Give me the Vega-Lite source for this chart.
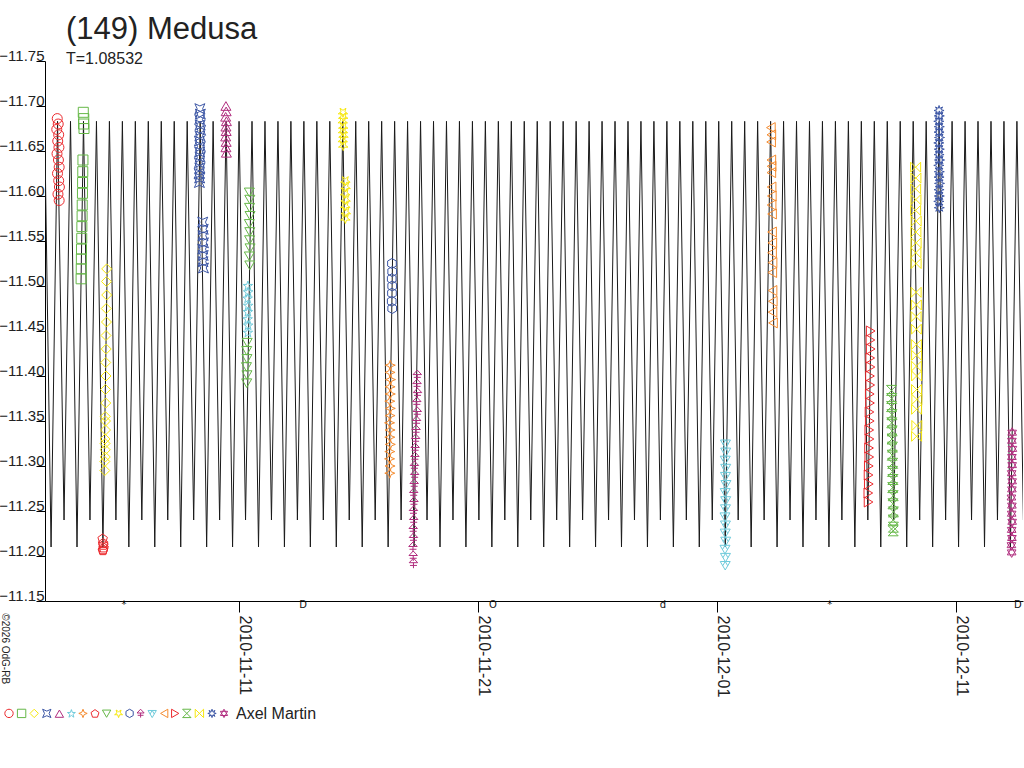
{
  "$schema": "https://vega.github.io/schema/vega-lite/v6.json",
  "autosize": "none",
  "width": 978,
  "height": 540,
  "padding": {"left": 45, "top": 61, "right": 1, "bottom": 167},
  "background": "white",
  "title": {
    "text": "(149) Medusa",
    "subtitle": "T=1.08532",
    "anchor": "start",
    "frame": "group",
    "dx": 21,
    "offset": -20,
    "font": "Liberation Sans",
    "fontSize": 31,
    "fontWeight": "normal",
    "color": "#222222",
    "subtitleFont": "Liberation Sans",
    "subtitleFontSize": 16,
    "subtitleColor": "#222222",
    "subtitlePadding": 5
  },
  "datasets": {
    "model": [
      {"day": 1.850, "mag": -11.683}, {"day": 2.121, "mag": -11.21}, {"day": 2.392, "mag": -11.683}, {"day": 2.664, "mag": -11.24},
      {"day": 2.935, "mag": -11.683}, {"day": 3.207, "mag": -11.21}, {"day": 3.478, "mag": -11.683}, {"day": 3.749, "mag": -11.24},
      {"day": 4.021, "mag": -11.683}, {"day": 4.292, "mag": -11.21}, {"day": 4.563, "mag": -11.683}, {"day": 4.835, "mag": -11.24},
      {"day": 5.106, "mag": -11.683}, {"day": 5.377, "mag": -11.21}, {"day": 5.648, "mag": -11.683}, {"day": 5.920, "mag": -11.24},
      {"day": 6.191, "mag": -11.683}, {"day": 6.462, "mag": -11.21}, {"day": 6.734, "mag": -11.683}, {"day": 7.005, "mag": -11.24},
      {"day": 7.276, "mag": -11.683}, {"day": 7.548, "mag": -11.21}, {"day": 7.819, "mag": -11.683}, {"day": 8.090, "mag": -11.24},
      {"day": 8.362, "mag": -11.683}, {"day": 8.633, "mag": -11.21}, {"day": 8.904, "mag": -11.683}, {"day": 9.176, "mag": -11.24},
      {"day": 9.447, "mag": -11.683}, {"day": 9.718, "mag": -11.21}, {"day": 9.990, "mag": -11.683}, {"day": 10.261, "mag": -11.24},
      {"day": 10.532, "mag": -11.683}, {"day": 10.804, "mag": -11.21}, {"day": 11.075, "mag": -11.683}, {"day": 11.346, "mag": -11.24},
      {"day": 11.618, "mag": -11.683}, {"day": 11.889, "mag": -11.21}, {"day": 12.160, "mag": -11.683}, {"day": 12.432, "mag": -11.24},
      {"day": 12.703, "mag": -11.683}, {"day": 12.974, "mag": -11.21}, {"day": 13.246, "mag": -11.683}, {"day": 13.517, "mag": -11.24},
      {"day": 13.788, "mag": -11.683}, {"day": 14.060, "mag": -11.21}, {"day": 14.331, "mag": -11.683}, {"day": 14.602, "mag": -11.24},
      {"day": 14.874, "mag": -11.683}, {"day": 15.145, "mag": -11.21}, {"day": 15.416, "mag": -11.683}, {"day": 15.688, "mag": -11.24},
      {"day": 15.959, "mag": -11.683}, {"day": 16.230, "mag": -11.21}, {"day": 16.502, "mag": -11.683}, {"day": 16.773, "mag": -11.24},
      {"day": 17.044, "mag": -11.683}, {"day": 17.316, "mag": -11.21}, {"day": 17.587, "mag": -11.683}, {"day": 17.858, "mag": -11.24},
      {"day": 18.130, "mag": -11.683}, {"day": 18.401, "mag": -11.21}, {"day": 18.672, "mag": -11.683}, {"day": 18.944, "mag": -11.24},
      {"day": 19.215, "mag": -11.683}, {"day": 19.486, "mag": -11.21}, {"day": 19.758, "mag": -11.683}, {"day": 20.029, "mag": -11.24},
      {"day": 20.300, "mag": -11.683}, {"day": 20.572, "mag": -11.21}, {"day": 20.843, "mag": -11.683}, {"day": 21.114, "mag": -11.24},
      {"day": 21.386, "mag": -11.683}, {"day": 21.657, "mag": -11.21}, {"day": 21.928, "mag": -11.683}, {"day": 22.200, "mag": -11.24},
      {"day": 22.471, "mag": -11.683}, {"day": 22.742, "mag": -11.21}, {"day": 23.014, "mag": -11.683}, {"day": 23.285, "mag": -11.24},
      {"day": 23.556, "mag": -11.683}, {"day": 23.828, "mag": -11.21}, {"day": 24.099, "mag": -11.683}, {"day": 24.370, "mag": -11.24},
      {"day": 24.642, "mag": -11.683}, {"day": 24.913, "mag": -11.21}, {"day": 25.184, "mag": -11.683}, {"day": 25.456, "mag": -11.24},
      {"day": 25.727, "mag": -11.683}, {"day": 25.998, "mag": -11.21}, {"day": 26.270, "mag": -11.683}, {"day": 26.541, "mag": -11.24},
      {"day": 26.812, "mag": -11.683}, {"day": 27.084, "mag": -11.21}, {"day": 27.355, "mag": -11.683}, {"day": 27.626, "mag": -11.24},
      {"day": 27.898, "mag": -11.683}, {"day": 28.169, "mag": -11.21}, {"day": 28.440, "mag": -11.683}, {"day": 28.712, "mag": -11.24},
      {"day": 28.983, "mag": -11.683}, {"day": 29.254, "mag": -11.21}, {"day": 29.526, "mag": -11.683}, {"day": 29.797, "mag": -11.24},
      {"day": 30.068, "mag": -11.683}, {"day": 30.340, "mag": -11.21}, {"day": 30.611, "mag": -11.683}, {"day": 30.882, "mag": -11.24},
      {"day": 31.154, "mag": -11.683}, {"day": 31.425, "mag": -11.21}, {"day": 31.696, "mag": -11.683}, {"day": 31.968, "mag": -11.24},
      {"day": 32.239, "mag": -11.683}, {"day": 32.510, "mag": -11.21}, {"day": 32.782, "mag": -11.683}, {"day": 33.053, "mag": -11.24},
      {"day": 33.324, "mag": -11.683}, {"day": 33.595, "mag": -11.21}, {"day": 33.867, "mag": -11.683}, {"day": 34.138, "mag": -11.24},
      {"day": 34.409, "mag": -11.683}, {"day": 34.681, "mag": -11.21}, {"day": 34.952, "mag": -11.683}, {"day": 35.223, "mag": -11.24},
      {"day": 35.495, "mag": -11.683}, {"day": 35.766, "mag": -11.21}, {"day": 36.037, "mag": -11.683}, {"day": 36.309, "mag": -11.24},
      {"day": 36.580, "mag": -11.683}, {"day": 36.851, "mag": -11.21}, {"day": 37.123, "mag": -11.683}, {"day": 37.394, "mag": -11.24},
      {"day": 37.665, "mag": -11.683}, {"day": 37.937, "mag": -11.21}, {"day": 38.208, "mag": -11.683}, {"day": 38.479, "mag": -11.24},
      {"day": 38.751, "mag": -11.683}, {"day": 39.022, "mag": -11.21}, {"day": 39.293, "mag": -11.683}, {"day": 39.565, "mag": -11.24},
      {"day": 39.836, "mag": -11.683}, {"day": 40.107, "mag": -11.21}, {"day": 40.379, "mag": -11.683}, {"day": 40.650, "mag": -11.24},
      {"day": 40.921, "mag": -11.683}, {"day": 41.193, "mag": -11.21}, {"day": 41.464, "mag": -11.683}, {"day": 41.735, "mag": -11.24},
      {"day": 42.007, "mag": -11.683}, {"day": 42.278, "mag": -11.21}, {"day": 42.549, "mag": -11.683}, {"day": 42.821, "mag": -11.24}
    ],
    "obs": [
      {"session": "s01", "day": 2.38, "mag": -11.686}, {"session": "s01", "day": 2.42, "mag": -11.680}, {"session": "s01", "day": 2.36, "mag": -11.674},
      {"session": "s01", "day": 2.44, "mag": -11.668}, {"session": "s01", "day": 2.40, "mag": -11.661}, {"session": "s01", "day": 2.45, "mag": -11.654},
      {"session": "s01", "day": 2.37, "mag": -11.647}, {"session": "s01", "day": 2.43, "mag": -11.640}, {"session": "s01", "day": 2.46, "mag": -11.632},
      {"session": "s01", "day": 2.39, "mag": -11.625}, {"session": "s01", "day": 2.44, "mag": -11.617}, {"session": "s01", "day": 2.47, "mag": -11.610},
      {"session": "s01", "day": 2.41, "mag": -11.602}, {"session": "s01", "day": 2.46, "mag": -11.595},

      {"session": "s02", "day": 3.47, "mag": -11.693}, {"session": "s02", "day": 3.49, "mag": -11.686}, {"session": "s02", "day": 3.48, "mag": -11.680},
      {"session": "s02", "day": 3.50, "mag": -11.675}, {"session": "s02", "day": 3.455, "mag": -11.640}, {"session": "s02", "day": 3.448, "mag": -11.627},
      {"session": "s02", "day": 3.44, "mag": -11.615}, {"session": "s02", "day": 3.435, "mag": -11.603}, {"session": "s02", "day": 3.425, "mag": -11.590},
      {"session": "s02", "day": 3.42, "mag": -11.578}, {"session": "s02", "day": 3.41, "mag": -11.566}, {"session": "s02", "day": 3.405, "mag": -11.553},
      {"session": "s02", "day": 3.395, "mag": -11.541}, {"session": "s02", "day": 3.39, "mag": -11.530}, {"session": "s02", "day": 3.385, "mag": -11.519},
      {"session": "s02", "day": 3.378, "mag": -11.508},

      {"session": "s03", "day": 4.45, "mag": -11.519}, {"session": "s03", "day": 4.44, "mag": -11.505}, {"session": "s03", "day": 4.45, "mag": -11.490},
      {"session": "s03", "day": 4.43, "mag": -11.475}, {"session": "s03", "day": 4.44, "mag": -11.460}, {"session": "s03", "day": 4.42, "mag": -11.445},
      {"session": "s03", "day": 4.43, "mag": -11.430}, {"session": "s03", "day": 4.41, "mag": -11.415}, {"session": "s03", "day": 4.42, "mag": -11.400},
      {"session": "s03", "day": 4.40, "mag": -11.385}, {"session": "s03", "day": 4.41, "mag": -11.370}, {"session": "s03", "day": 4.39, "mag": -11.355},
      {"session": "s03", "day": 4.40, "mag": -11.340}, {"session": "s03", "day": 4.38, "mag": -11.325}, {"session": "s03", "day": 4.39, "mag": -11.310},
      {"session": "s03", "day": 4.37, "mag": -11.295}, {"session": "s03", "day": 4.38, "mag": -11.330}, {"session": "s03", "day": 4.39, "mag": -11.318},
      {"session": "s03", "day": 4.37, "mag": -11.305}, {"session": "s03", "day": 4.40, "mag": -11.350},

      {"session": "s04", "day": 8.35, "mag": -11.697}, {"session": "s04", "day": 8.37, "mag": -11.691}, {"session": "s04", "day": 8.34, "mag": -11.685},
      {"session": "s04", "day": 8.36, "mag": -11.679}, {"session": "s04", "day": 8.38, "mag": -11.673}, {"session": "s04", "day": 8.35, "mag": -11.667},
      {"session": "s04", "day": 8.33, "mag": -11.661}, {"session": "s04", "day": 8.37, "mag": -11.655}, {"session": "s04", "day": 8.34, "mag": -11.649},
      {"session": "s04", "day": 8.36, "mag": -11.643}, {"session": "s04", "day": 8.33, "mag": -11.637}, {"session": "s04", "day": 8.35, "mag": -11.631},
      {"session": "s04", "day": 8.32, "mag": -11.625}, {"session": "s04", "day": 8.34, "mag": -11.620}, {"session": "s04", "day": 8.33, "mag": -11.615},
      {"session": "s04", "day": 8.47, "mag": -11.571}, {"session": "s04", "day": 8.49, "mag": -11.563}, {"session": "s04", "day": 8.48, "mag": -11.556},
      {"session": "s04", "day": 8.50, "mag": -11.548}, {"session": "s04", "day": 8.47, "mag": -11.541}, {"session": "s04", "day": 8.49, "mag": -11.534},
      {"session": "s04", "day": 8.48, "mag": -11.527}, {"session": "s04", "day": 8.50, "mag": -11.520},

      {"session": "s05", "day": 9.44, "mag": -11.700}, {"session": "s05", "day": 9.45, "mag": -11.694}, {"session": "s05", "day": 9.43, "mag": -11.688},
      {"session": "s05", "day": 9.46, "mag": -11.683}, {"session": "s05", "day": 9.44, "mag": -11.677}, {"session": "s05", "day": 9.45, "mag": -11.672},
      {"session": "s05", "day": 9.43, "mag": -11.666}, {"session": "s05", "day": 9.45, "mag": -11.660}, {"session": "s05", "day": 9.44, "mag": -11.654},
      {"session": "s05", "day": 9.46, "mag": -11.648},

      {"session": "s06", "day": 10.36, "mag": -11.500}, {"session": "s06", "day": 10.37, "mag": -11.493}, {"session": "s06", "day": 10.35, "mag": -11.486},
      {"session": "s06", "day": 10.37, "mag": -11.478}, {"session": "s06", "day": 10.36, "mag": -11.471}, {"session": "s06", "day": 10.35, "mag": -11.463},
      {"session": "s06", "day": 10.37, "mag": -11.456}, {"session": "s06", "day": 10.36, "mag": -11.448},

      {"session": "s07", "day": 16.32, "mag": -11.412}, {"session": "s07", "day": 16.31, "mag": -11.404}, {"session": "s07", "day": 16.33, "mag": -11.396},
      {"session": "s07", "day": 16.31, "mag": -11.388}, {"session": "s07", "day": 16.32, "mag": -11.380}, {"session": "s07", "day": 16.30, "mag": -11.372},
      {"session": "s07", "day": 16.32, "mag": -11.364}, {"session": "s07", "day": 16.31, "mag": -11.356}, {"session": "s07", "day": 16.29, "mag": -11.348},
      {"session": "s07", "day": 16.31, "mag": -11.340}, {"session": "s07", "day": 16.30, "mag": -11.332}, {"session": "s07", "day": 16.32, "mag": -11.324},
      {"session": "s07", "day": 16.30, "mag": -11.316}, {"session": "s07", "day": 16.29, "mag": -11.308}, {"session": "s07", "day": 16.31, "mag": -11.300},
      {"session": "s07", "day": 16.30, "mag": -11.292},

      {"session": "s08", "day": 4.28, "mag": -11.219}, {"session": "s08", "day": 4.30, "mag": -11.214}, {"session": "s08", "day": 4.32, "mag": -11.209},
      {"session": "s08", "day": 4.29, "mag": -11.206}, {"session": "s08", "day": 4.31, "mag": -11.212}, {"session": "s08", "day": 4.30, "mag": -11.207},

      {"session": "s09", "day": 10.42, "mag": -11.604}, {"session": "s09", "day": 10.44, "mag": -11.596}, {"session": "s09", "day": 10.43, "mag": -11.587},
      {"session": "s09", "day": 10.45, "mag": -11.578}, {"session": "s09", "day": 10.42, "mag": -11.569}, {"session": "s09", "day": 10.44, "mag": -11.560},
      {"session": "s09", "day": 10.43, "mag": -11.551}, {"session": "s09", "day": 10.45, "mag": -11.542}, {"session": "s09", "day": 10.42, "mag": -11.533},
      {"session": "s09", "day": 10.44, "mag": -11.523}, {"session": "s09", "day": 10.33, "mag": -11.437}, {"session": "s09", "day": 10.31, "mag": -11.428},
      {"session": "s09", "day": 10.32, "mag": -11.419}, {"session": "s09", "day": 10.30, "mag": -11.410}, {"session": "s09", "day": 10.32, "mag": -11.401},
      {"session": "s09", "day": 10.31, "mag": -11.392},

      {"session": "s10", "day": 14.34, "mag": -11.693}, {"session": "s10", "day": 14.35, "mag": -11.688}, {"session": "s10", "day": 14.33, "mag": -11.683},
      {"session": "s10", "day": 14.35, "mag": -11.677}, {"session": "s10", "day": 14.34, "mag": -11.672}, {"session": "s10", "day": 14.36, "mag": -11.667},
      {"session": "s10", "day": 14.33, "mag": -11.662}, {"session": "s10", "day": 14.35, "mag": -11.656}, {"session": "s10", "day": 14.44, "mag": -11.617},
      {"session": "s10", "day": 14.45, "mag": -11.610}, {"session": "s10", "day": 14.43, "mag": -11.603}, {"session": "s10", "day": 14.45, "mag": -11.596},
      {"session": "s10", "day": 14.44, "mag": -11.589}, {"session": "s10", "day": 14.46, "mag": -11.582}, {"session": "s10", "day": 14.44, "mag": -11.575},

      {"session": "s11", "day": 16.39, "mag": -11.525}, {"session": "s11", "day": 16.40, "mag": -11.516}, {"session": "s11", "day": 16.38, "mag": -11.508},
      {"session": "s11", "day": 16.40, "mag": -11.500}, {"session": "s11", "day": 16.39, "mag": -11.492}, {"session": "s11", "day": 16.38, "mag": -11.483},
      {"session": "s11", "day": 16.40, "mag": -11.475},

      {"session": "s12", "day": 17.45, "mag": -11.401}, {"session": "s12", "day": 17.44, "mag": -11.391}, {"session": "s12", "day": 17.46, "mag": -11.381},
      {"session": "s12", "day": 17.43, "mag": -11.371}, {"session": "s12", "day": 17.45, "mag": -11.360}, {"session": "s12", "day": 17.42, "mag": -11.350},
      {"session": "s12", "day": 17.40, "mag": -11.340}, {"session": "s12", "day": 17.38, "mag": -11.330}, {"session": "s12", "day": 17.36, "mag": -11.320},
      {"session": "s12", "day": 17.35, "mag": -11.310}, {"session": "s12", "day": 17.33, "mag": -11.300}, {"session": "s12", "day": 17.34, "mag": -11.290},
      {"session": "s12", "day": 17.32, "mag": -11.280}, {"session": "s12", "day": 17.30, "mag": -11.270}, {"session": "s12", "day": 17.31, "mag": -11.260},
      {"session": "s12", "day": 17.29, "mag": -11.250}, {"session": "s12", "day": 17.30, "mag": -11.240}, {"session": "s12", "day": 17.28, "mag": -11.230},
      {"session": "s12", "day": 17.29, "mag": -11.220}, {"session": "s12", "day": 17.27, "mag": -11.210}, {"session": "s12", "day": 17.28, "mag": -11.200},
      {"session": "s12", "day": 17.29, "mag": -11.192},

      {"session": "s13", "day": 30.35, "mag": -11.325}, {"session": "s13", "day": 30.36, "mag": -11.316}, {"session": "s13", "day": 30.34, "mag": -11.307},
      {"session": "s13", "day": 30.36, "mag": -11.298}, {"session": "s13", "day": 30.35, "mag": -11.289}, {"session": "s13", "day": 30.37, "mag": -11.280},
      {"session": "s13", "day": 30.34, "mag": -11.271}, {"session": "s13", "day": 30.36, "mag": -11.262}, {"session": "s13", "day": 30.35, "mag": -11.253},
      {"session": "s13", "day": 30.33, "mag": -11.244}, {"session": "s13", "day": 30.35, "mag": -11.235}, {"session": "s13", "day": 30.34, "mag": -11.226},
      {"session": "s13", "day": 30.36, "mag": -11.217}, {"session": "s13", "day": 30.33, "mag": -11.208}, {"session": "s13", "day": 30.35, "mag": -11.199},
      {"session": "s13", "day": 30.34, "mag": -11.190},

      {"session": "s14", "day": 32.25, "mag": -11.676}, {"session": "s14", "day": 32.27, "mag": -11.668}, {"session": "s14", "day": 32.26, "mag": -11.660},
      {"session": "s14", "day": 32.27, "mag": -11.640}, {"session": "s14", "day": 32.28, "mag": -11.633}, {"session": "s14", "day": 32.27, "mag": -11.626},
      {"session": "s14", "day": 32.28, "mag": -11.610}, {"session": "s14", "day": 32.29, "mag": -11.600}, {"session": "s14", "day": 32.28, "mag": -11.590},
      {"session": "s14", "day": 32.30, "mag": -11.580}, {"session": "s14", "day": 32.30, "mag": -11.560}, {"session": "s14", "day": 32.31, "mag": -11.548},
      {"session": "s14", "day": 32.30, "mag": -11.537}, {"session": "s14", "day": 32.32, "mag": -11.526}, {"session": "s14", "day": 32.31, "mag": -11.515},
      {"session": "s14", "day": 32.32, "mag": -11.495}, {"session": "s14", "day": 32.33, "mag": -11.483}, {"session": "s14", "day": 32.32, "mag": -11.471},
      {"session": "s14", "day": 32.34, "mag": -11.459},

      {"session": "s15", "day": 36.43, "mag": -11.450}, {"session": "s15", "day": 36.42, "mag": -11.440}, {"session": "s15", "day": 36.43, "mag": -11.430},
      {"session": "s15", "day": 36.41, "mag": -11.420}, {"session": "s15", "day": 36.42, "mag": -11.410}, {"session": "s15", "day": 36.40, "mag": -11.400},
      {"session": "s15", "day": 36.41, "mag": -11.390}, {"session": "s15", "day": 36.39, "mag": -11.380}, {"session": "s15", "day": 36.40, "mag": -11.370},
      {"session": "s15", "day": 36.38, "mag": -11.360}, {"session": "s15", "day": 36.39, "mag": -11.350}, {"session": "s15", "day": 36.37, "mag": -11.340},
      {"session": "s15", "day": 36.38, "mag": -11.330}, {"session": "s15", "day": 36.36, "mag": -11.320}, {"session": "s15", "day": 36.37, "mag": -11.310},
      {"session": "s15", "day": 36.35, "mag": -11.300}, {"session": "s15", "day": 36.34, "mag": -11.290}, {"session": "s15", "day": 36.35, "mag": -11.280},
      {"session": "s15", "day": 36.33, "mag": -11.270}, {"session": "s15", "day": 36.34, "mag": -11.260},

      {"session": "s16", "day": 37.30, "mag": -11.384}, {"session": "s16", "day": 37.31, "mag": -11.375}, {"session": "s16", "day": 37.30, "mag": -11.366},
      {"session": "s16", "day": 37.32, "mag": -11.357}, {"session": "s16", "day": 37.31, "mag": -11.348}, {"session": "s16", "day": 37.33, "mag": -11.339},
      {"session": "s16", "day": 37.32, "mag": -11.330}, {"session": "s16", "day": 37.34, "mag": -11.321}, {"session": "s16", "day": 37.33, "mag": -11.312},
      {"session": "s16", "day": 37.35, "mag": -11.303}, {"session": "s16", "day": 37.34, "mag": -11.294}, {"session": "s16", "day": 37.36, "mag": -11.285},
      {"session": "s16", "day": 37.35, "mag": -11.276}, {"session": "s16", "day": 37.37, "mag": -11.267}, {"session": "s16", "day": 37.36, "mag": -11.258},
      {"session": "s16", "day": 37.38, "mag": -11.249}, {"session": "s16", "day": 37.37, "mag": -11.240}, {"session": "s16", "day": 37.38, "mag": -11.232},
      {"session": "s16", "day": 37.37, "mag": -11.228},

      {"session": "s17", "day": 38.31, "mag": -11.632}, {"session": "s17", "day": 38.32, "mag": -11.620}, {"session": "s17", "day": 38.31, "mag": -11.608},
      {"session": "s17", "day": 38.32, "mag": -11.596}, {"session": "s17", "day": 38.31, "mag": -11.584}, {"session": "s17", "day": 38.33, "mag": -11.572},
      {"session": "s17", "day": 38.32, "mag": -11.560}, {"session": "s17", "day": 38.33, "mag": -11.548}, {"session": "s17", "day": 38.32, "mag": -11.537},
      {"session": "s17", "day": 38.33, "mag": -11.525}, {"session": "s17", "day": 38.33, "mag": -11.493}, {"session": "s17", "day": 38.34, "mag": -11.479},
      {"session": "s17", "day": 38.33, "mag": -11.466}, {"session": "s17", "day": 38.34, "mag": -11.452}, {"session": "s17", "day": 38.34, "mag": -11.435},
      {"session": "s17", "day": 38.35, "mag": -11.423}, {"session": "s17", "day": 38.34, "mag": -11.411}, {"session": "s17", "day": 38.35, "mag": -11.400},
      {"session": "s17", "day": 38.35, "mag": -11.385}, {"session": "s17", "day": 38.36, "mag": -11.374}, {"session": "s17", "day": 38.35, "mag": -11.363},
      {"session": "s17", "day": 38.36, "mag": -11.345}, {"session": "s17", "day": 38.35, "mag": -11.333},

      {"session": "s18", "day": 39.29, "mag": -11.695}, {"session": "s18", "day": 39.30, "mag": -11.689}, {"session": "s18", "day": 39.28, "mag": -11.683},
      {"session": "s18", "day": 39.30, "mag": -11.677}, {"session": "s18", "day": 39.29, "mag": -11.671}, {"session": "s18", "day": 39.31, "mag": -11.665},
      {"session": "s18", "day": 39.28, "mag": -11.659}, {"session": "s18", "day": 39.30, "mag": -11.652}, {"session": "s18", "day": 39.29, "mag": -11.646},
      {"session": "s18", "day": 39.31, "mag": -11.640}, {"session": "s18", "day": 39.28, "mag": -11.634}, {"session": "s18", "day": 39.30, "mag": -11.627},
      {"session": "s18", "day": 39.29, "mag": -11.621}, {"session": "s18", "day": 39.31, "mag": -11.614}, {"session": "s18", "day": 39.29, "mag": -11.607},
      {"session": "s18", "day": 39.30, "mag": -11.600}, {"session": "s18", "day": 39.28, "mag": -11.594}, {"session": "s18", "day": 39.30, "mag": -11.587},

      {"session": "s19", "day": 42.35, "mag": -11.337}, {"session": "s19", "day": 42.34, "mag": -11.328}, {"session": "s19", "day": 42.36, "mag": -11.319},
      {"session": "s19", "day": 42.34, "mag": -11.310}, {"session": "s19", "day": 42.35, "mag": -11.301}, {"session": "s19", "day": 42.33, "mag": -11.292},
      {"session": "s19", "day": 42.35, "mag": -11.283}, {"session": "s19", "day": 42.34, "mag": -11.274}, {"session": "s19", "day": 42.32, "mag": -11.265},
      {"session": "s19", "day": 42.34, "mag": -11.256}, {"session": "s19", "day": 42.33, "mag": -11.247}, {"session": "s19", "day": 42.35, "mag": -11.238},
      {"session": "s19", "day": 42.33, "mag": -11.229}, {"session": "s19", "day": 42.34, "mag": -11.220}, {"session": "s19", "day": 42.32, "mag": -11.212},
      {"session": "s19", "day": 42.33, "mag": -11.204}
    ],
    "moon": [
      {"day": 5.17, "mag": -11.146, "sym": "*"},
      {"day": 12.67, "mag": -11.146, "sym": "D"},
      {"day": 20.62, "mag": -11.146, "sym": "O"},
      {"day": 27.73, "mag": -11.146, "sym": "d"},
      {"day": 34.72, "mag": -11.146, "sym": "*"},
      {"day": 42.59, "mag": -11.146, "sym": "D"}
    ],
    "credit": [
      {"day": 0.07, "mag": -11.1363, "text": "©2026 OdG-RB"}
    ]
  },
  "encoding": {
    "x": {
      "field": "day",
      "type": "quantitative",
      "scale": {"domain": [1.867, 42.804], "nice": false, "zero": false},
      "axis": {
        "title": null,
        "values": [10, 20, 30, 40],
        "labelExpr": "timeFormat(datetime(2010, 10, 1 + datum.value), '%Y-%m-%d')",
        "tickSize": 11,
        "labelAngle": 90,
        "labelAlign": "left",
        "labelBaseline": "alphabetic",
        "labelPadding": 3,
        "labelFlush": false,
        "labelOverlap": false
      }
    },
    "y": {
      "field": "mag",
      "type": "quantitative",
      "scale": {"domain": [-11.75, -11.15], "reverse": true, "nice": false, "zero": false},
      "axis": {
        "title": null,
        "values": [-11.75, -11.7, -11.65, -11.6, -11.55, -11.5, -11.45, -11.4, -11.35, -11.3, -11.25, -11.2, -11.15],
        "format": ".2f",
        "tickSize": 9,
        "labelPadding": -8,
        "labelFontSize": 15,
        "labelBaseline": "alphabetic",
        "labelOffset": -1,
        "labelFlush": false,
        "labelOverlap": false
      }
    }
  },
  "layer": [
    {
      "data": {"name": "model"},
      "mark": {"type": "line", "stroke": "#1a1a1a", "strokeWidth": 1, "clip": true}
    },
    {
      "data": {"name": "obs"},
      "mark": {"type": "point", "filled": false, "strokeWidth": 1, "size": 100, "opacity": 1},
      "encoding": {
        "color": {
          "field": "session",
          "type": "nominal",
          "scale": {
            "domain": ["s01", "s02", "s03", "s04", "s05", "s06", "s07", "s08", "s09", "s10", "s11", "s12", "s13", "s14", "s15", "s16", "s17", "s18", "s19"],
            "range": ["#ec2a2e", "#66b848", "#f7e80f", "#3c56a5", "#b12e7f", "#6fcbdb", "#f58b2e", "#ec2a2e", "#66b848", "#f7e80f", "#3c56a5", "#b12e7f", "#6fcbdb", "#f58b2e", "#ec2a2e", "#66b848", "#f7e80f", "#3c56a5", "#b12e7f"]
          },
          "legend": {
            "orient": "none", "legendX": -41, "legendY": 647, "direction": "horizontal", "columns": 19,
            "title": "Axel Martin", "titleOrient": "right", "titleFont": "Liberation Sans", "titleFontSize": 16,
            "titleFontWeight": "normal", "titleColor": "#222222", "titlePadding": 6,
            "labelExpr": "''", "labelOffset": 0, "columnPadding": -1.4, "symbolSize": 70, "symbolStrokeWidth": 1, "padding": 0
          }
        },
        "shape": {
          "field": "session",
          "type": "nominal",
          "scale": {
            "domain": ["s01", "s02", "s03", "s04", "s05", "s06", "s07", "s08", "s09", "s10", "s11", "s12", "s13", "s14", "s15", "s16", "s17", "s18", "s19"],
            "range": [
              "circle",
              "square",
              "diamond",
              "M-1,-1L0,-0.55L1,-1L0.55,0L1,1L0,0.55L-1,1L-0.55,0Z",
              "triangle-up",
              "M0,-1L0.235,-0.324L0.951,-0.309L0.38,0.124L0.588,0.809L0,0.4L-0.588,0.809L-0.38,0.124L-0.951,-0.309L-0.235,-0.324Z",
              "M0,-1L0.28,-0.28L1,0L0.28,0.28L0,1L-0.28,0.28L-1,0L-0.28,-0.28Z",
              "M0,-1L0.951,-0.309L0.588,0.809L-0.588,0.809L-0.951,-0.309Z",
              "triangle-down",
              "M0,1L0.235,0.324L0.951,0.309L0.38,-0.124L0.588,-0.809L0,-0.4L-0.588,-0.809L-0.38,-0.124L-0.951,0.309L-0.235,0.324Z",
              "M0,-1L0.866,-0.5L0.866,0.5L0,1L-0.866,0.5L-0.866,-0.5Z",
              "M0,-1L0.85,-0.1L-0.85,-0.1Z M0,-0.1L0,1 M-0.7,0.45L0.7,0.45",
              "M-1,-0.7L1,-0.7L0,1Z M-0.5,0.15L0,-0.7L0.5,0.15",
              "triangle-left",
              "triangle-right",
              "M-1,-1L1,-1L-1,1L1,1Z",
              "M-1,-1L1,1L1,-1L-1,1Z",
              "M1,0L0.416,0.172L0.707,0.707L0.172,0.416L0,1L-0.172,0.416L-0.707,0.707L-0.416,0.172L-1,0L-0.416,-0.172L-0.707,-0.707L-0.172,-0.416L0,-1L0.172,-0.416L0.707,-0.707L0.416,-0.172Z",
              "M0,-1L0.866,0.5L-0.866,0.5Z M0,1L-0.866,-0.5L0.866,-0.5Z"
            ]
          },
          "legend": {
            "orient": "none", "legendX": -41, "legendY": 647, "direction": "horizontal", "columns": 19,
            "title": "Axel Martin", "titleOrient": "right", "titleFont": "Liberation Sans", "titleFontSize": 16,
            "titleFontWeight": "normal", "titleColor": "#222222", "titlePadding": 6,
            "labelExpr": "''", "labelOffset": 0, "columnPadding": -1.4, "symbolSize": 70, "symbolStrokeWidth": 1, "padding": 0
          }
        }
      }
    },
    {
      "data": {"name": "moon"},
      "mark": {"type": "text", "font": "DejaVu Sans", "fontSize": 10, "color": "#111111", "align": "center", "baseline": "middle"},
      "encoding": {"text": {"field": "sym"}}
    },
    {
      "data": {"name": "credit"},
      "mark": {"type": "text", "font": "Liberation Sans", "fontSize": 10, "color": "#222222", "angle": 90, "align": "left", "baseline": "alphabetic"},
      "encoding": {"text": {"field": "text"}}
    }
  ],
  "config": {
    "view": {"stroke": null},
    "axis": {
      "grid": false,
      "domainColor": "#000000",
      "tickColor": "#000000",
      "labelColor": "#222222",
      "labelFont": "Liberation Sans",
      "labelFontSize": 16
    }
  }
}
